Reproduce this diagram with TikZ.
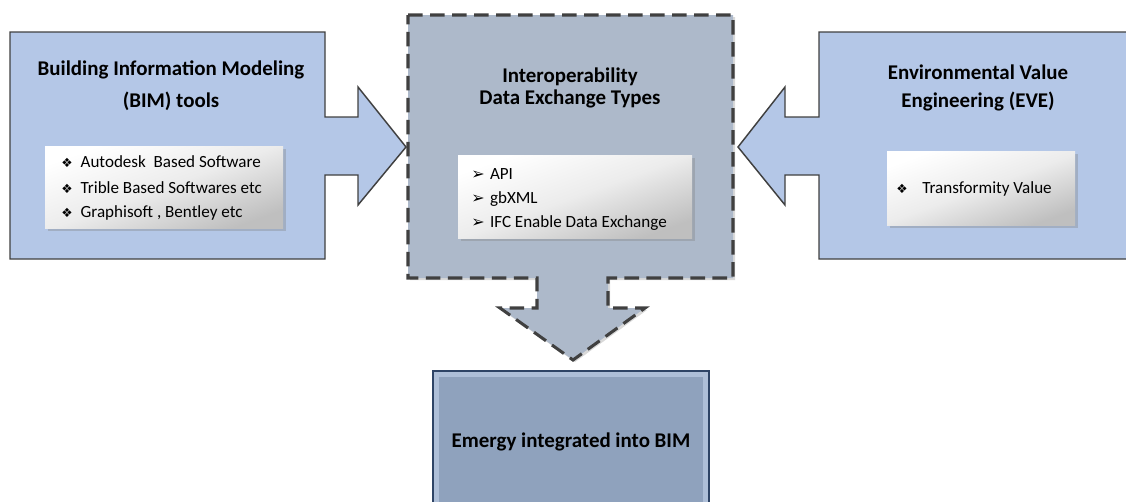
\documentclass[tikz,border=0pt]{standalone}
\usepackage{fontspec}
\setmainfont{Carlito}
\newfontfamily\symfont{DejaVu Sans}
\usepackage{tikz}
\usetikzlibrary{shadows}
\definecolor{bimblue}{HTML}{B4C7E7}
\definecolor{iopgray}{HTML}{ADB9CA}
\definecolor{edgegray}{HTML}{404040}
\definecolor{emergyout}{HTML}{AEBFD8}
\definecolor{emergyin}{HTML}{8FA2BD}
\definecolor{emergyedge}{HTML}{2E4466}
\newcommand{\dia}{{\symfont\fontsize{9.5}{9.5}\selectfont\char"2756}}
\newcommand{\arr}{{\symfont\fontsize{12}{12}\selectfont\char"27A2}}

\begin{document}
\begin{tikzpicture}[x=0.75pt, y=-0.75pt,
  callout/.style={draw=edgegray, line width=1.1pt, fill=bimblue, line join=miter},
  dash callout/.style={draw=edgegray, line width=2.3pt, fill=iopgray,
    dash pattern=on 11pt off 5.5pt, line join=miter,
    drop shadow={opacity=0.3, shadow xshift=1.5pt, shadow yshift=-1.5pt}},
  title/.style={align=center, font=\fontsize{15.7}{#1}\selectfont\bfseries},
  list box/.style 2 args={inner sep=0pt, outer sep=0pt,
    minimum width=#1*0.75pt, minimum height=#2*0.75pt,
    top color=white, bottom color=gray!50, middle color=gray!15, shading angle=20,
    drop shadow={opacity=0.35, shadow xshift=2pt, shadow yshift=-2pt}},
  item/.style={anchor=west, inner sep=0pt, font=\fontsize{12.8}{15}\selectfont},
  emergy box/.style={draw=emergyedge, line width=0.9pt, fill=emergyout,
    minimum width=276*0.75pt, minimum height=142*0.75pt, inner sep=0pt,
    font=\fontsize{15.7}{19}\selectfont\bfseries,
    path picture={\fill[emergyin]
      ([shift={(4.5pt,-4.5pt)}]path picture bounding box.north west) rectangle
      ([shift={(-4.5pt,4.5pt)}]path picture bounding box.south east);}}]

\useasboundingbox (0,0) rectangle (1126,501);

% callout shapes
\draw[callout] (10,32) -- (325,32) -- (325,117) -- (358,117) -- (358,87)
  -- (406,147) coordinate (bim-tip) -- (358,205) -- (358,175) -- (325,175)
  -- (325,259) -- (10,259) -- cycle;

\draw[callout] (1127,32) -- (819,32) -- (819,117) -- (785,117) -- (785,87)
  -- (738,147) coordinate (eve-tip) -- (785,205) -- (785,175) -- (819,175)
  -- (819,259) -- (1127,259);

\draw[dash callout] (408,15) -- (733,15) -- (733,278) -- (608,278) -- (608,308)
  -- (645,308) -- (573,360) coordinate (iop-tip) -- (500,308) -- (537,308)
  -- (537,278) -- (408,278) -- cycle;

% titles
\node[title=24] (bim) at (171,86) {Building Information Modeling\\(BIM) tools};
\node[title=16.5] (iop) at (570,88) {Interoperability\\Data Exchange Types};
\node[title=20.5] (eve) at (978,88) {Environmental Value\\Engineering (EVE)};

% lists
\node[list box={238}{82}] (bim-list) at (164,187) {};
\node[list box={234}{83}] (iop-list) at (575,196.5) {};
\node[list box={188}{74}] (eve-list) at (981,188) {};

\foreach \t [count=\i] in {Autodesk\ \ Based Software, Trible Based Softwares etc, {Graphisoft , Bentley etc}}
  \node[item] (bim-item-\i) at (61,136.5+25.5*\i) {\dia\hspace{6pt}\t};

\foreach \t [count=\i] in {API, gbXML, IFC Enable Data Exchange}
  \node[item] (iop-item-\i) at (471,150+24.5*\i) {\arr\hspace{4pt}\t};

\node[item] (eve-item-1) at (896,189) {\dia\hspace{11pt}Transformity Value};

% result
\node[emergy box] (emergy) at (571,442) {Emergy integrated into BIM};

\end{tikzpicture}
\end{document}
